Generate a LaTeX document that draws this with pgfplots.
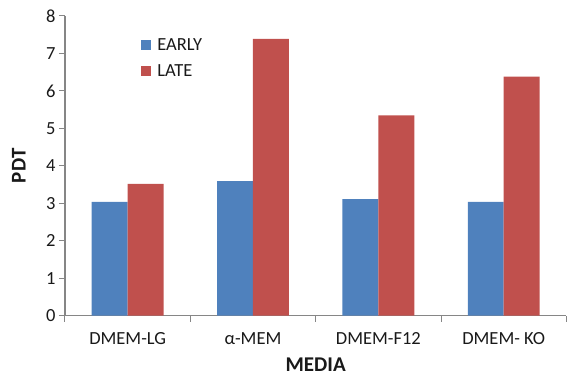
\documentclass[border=0pt]{standalone}
\usepackage{pgfplots}
\pgfplotsset{compat=1.18}
\usepackage{pgfplotstable}
\usepackage{fontspec}
\setmainfont{Carlito}
\definecolor{early}{HTML}{4F81BD}
\definecolor{late}{HTML}{C0504D}
\definecolor{axisgray}{HTML}{868686}

\pgfplotstableread{
x early late
0 3.04 3.52
1 3.59 7.39
2 3.11 5.35
3 3.04 6.38
}\pdtdata

\begin{document}
\begin{tikzpicture}
\begin{axis}[
  scale only axis,
  width=502pt, height=300pt,
  at={(0,0)}, anchor=south west,
  xmin=-0.5, xmax=3.5, ymin=0, ymax=8,
  ybar=0pt, bar width=36pt,
  axis x line=bottom, axis y line=left,
  axis line style={draw=axisgray, line width=1.2pt, -},
  xtick={0,1,2,3},
  xticklabels={DMEM-LG, α-MEM, DMEM-F12, DMEM- KO},
  minor xtick={-0.5,0.5,1.5,2.5,3.5},
  ytick={0,1,...,8},
  tick align=outside,
  major tick length=6pt, minor tick length=6pt,
  every tick/.append style={draw=axisgray, line width=1pt},
  every major x tick/.append style={draw=none},
  /pgf/number format/assume math mode=true,
  tick label style={font=\fontsize{18.5}{22}\selectfont, text=black!90},
  xticklabel style={yshift=-7pt},
  xlabel={MEDIA}, ylabel={PDT},
  label style={font=\fontsize{21}{24}\selectfont\bfseries, text=black!90},
  xlabel style={at={(axis description cs:0.5,-0.163)}, anchor=center},
  ylabel style={at={(axis description cs:-0.092,0.5)}, anchor=center},
  legend style={at={(axis description cs:0.152,0.93)}, anchor=north west,
    draw=none, fill=none, inner sep=0pt, row sep=11pt, column sep=5pt,
    font=\fontsize{18.5}{22}\selectfont, text=black!90,
    nodes={inner sep=1pt, anchor=west}},
  legend cell align=left,
  legend image code/.code={\fill[#1] (0pt,-5pt) rectangle (10pt,5pt);},
]
\addplot[fill=early, draw=none] table[x=x, y=early] {\pdtdata};
\addplot[fill=late, draw=none] table[x=x, y=late] {\pdtdata};
\legend{EARLY, LATE}
\end{axis}
\path[use as bounding box] (-65pt,-60pt) rectangle (502pt,316pt);
\end{tikzpicture}
\end{document}
